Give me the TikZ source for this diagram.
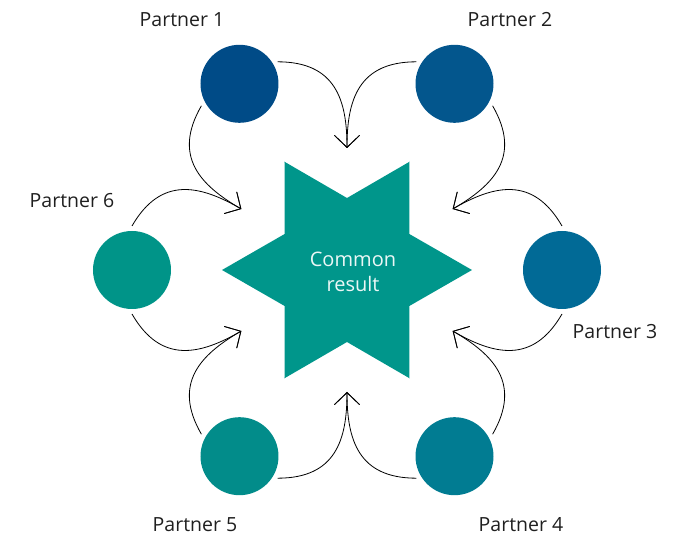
\documentclass[tikz,border=0pt]{standalone}
\usepackage{fontspec}
\setmainfont{Open Sans}
\usetikzlibrary{arrows.meta}
\tikzset{>={Straight Barb[length=12pt,width=25pt]}}
\definecolor{pone}{HTML}{004B87}
\definecolor{ptwo}{HTML}{03568D}
\definecolor{pthree}{HTML}{016A96}
\definecolor{pfour}{HTML}{017C92}
\definecolor{pfive}{HTML}{028C8A}
\definecolor{psix}{HTML}{009488}
\definecolor{resfill}{HTML}{00968B}
\tikzset{partner/.style = {circle, minimum size=78pt, inner sep=0pt, outer sep=5pt},
         plabel/.style = {anchor=base, text=black!88, font=\fontsize{19.5}{23}\selectfont},
         flow/.style = {->, line width=0.8pt}}

\begin{document}
\begin{tikzpicture}[x=1pt, y=1pt]
    \useasboundingbox (-347,-265) rectangle (336,270);
    \fill[resfill] (0:125) -- (30:72) -- (60:125) -- (90:72) -- (120:125) -- (150:72) -- (180:125)
        -- (210:72) -- (240:125) -- (270:72) -- (300:125) -- (330:72) -- cycle;
    \node [align=center, text=white!92!resfill, font=\fontsize{20}{25}\selectfont] (res) at (6,-2) {Common\\result};
    \node [partner, fill=pone] (p1) at (120:215) {};
    \node [partner, fill=ptwo] (p2) at (60:215) {};
    \node [partner, fill=pthree] (p3) at (0:215) {};
    \node [partner, fill=pfour] (p4) at (300:215) {};
    \node [partner, fill=pfive] (p5) at (240:215) {};
    \node [partner, fill=psix] (p6) at (180:215) {};
    \node [plabel] (l1) at (-165,243) {Partner 1};
    \node [plabel] (l2) at (163,243) {Partner 2};
    \node [plabel] (l3) at (268,-69) {Partner 3};
    \node [plabel] (l4) at (174,-261) {Partner 4};
    \node [plabel] (l5) at (-152,-261) {Partner 5};
    \node [plabel] (l6) at (-275,62) {Partner 6};
    \coordinate (ta) at (90:122);
    \coordinate (tb) at (30:122);
    \coordinate (tc) at (330:122);
    \coordinate (td) at (270:122);
    \coordinate (te) at (210:122);
    \coordinate (tf) at (150:122);
    \draw [flow] (p1.30) .. controls +(0:58) and +(90:48) .. (ta);
    \draw [flow] (p1.210) .. controls +(240:58) and +(150:48) .. (tf);
    \draw [flow] (p2.150) .. controls +(180:58) and +(90:48) .. (ta);
    \draw [flow] (p2.-30) .. controls +(-60:58) and +(30:48) .. (tb);
    \draw [flow] (p3.90) .. controls +(120:58) and +(30:48) .. (tb);
    \draw [flow] (p3.-90) .. controls +(-120:58) and +(-30:48) .. (tc);
    \draw [flow] (p4.30) .. controls +(60:58) and +(330:48) .. (tc);
    \draw [flow] (p4.210) .. controls +(180:58) and +(270:48) .. (td);
    \draw [flow] (p5.330) .. controls +(0:58) and +(270:48) .. (td);
    \draw [flow] (p5.150) .. controls +(120:58) and +(210:48) .. (te);
    \draw [flow] (p6.270) .. controls +(300:58) and +(210:48) .. (te);
    \draw [flow] (p6.90) .. controls +(60:58) and +(150:48) .. (tf);
\end{tikzpicture}
\end{document}
